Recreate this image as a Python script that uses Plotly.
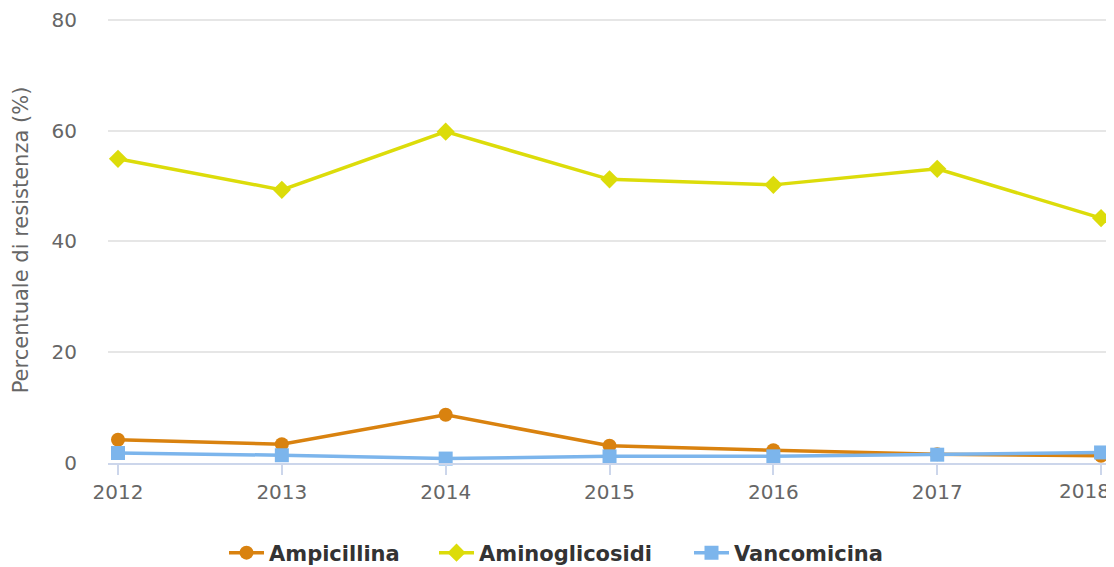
import plotly.graph_objects as go

years = [2012, 2013, 2014, 2015, 2016, 2017, 2018]
ampicillina = [4.2, 3.4, 8.7, 3.1, 2.3, 1.6, 1.3]
aminoglicosidi = [54.9, 49.3, 59.8, 51.2, 50.2, 53.1, 44.2]
vancomicina = [1.8, 1.4, 0.8, 1.2, 1.2, 1.5, 1.9]

ORANGE = "#d9820f"
YELLOW = "#dcdc0a"
BLUE = "#7cb5ec"
FONT = "DejaVu Sans"

# page body has an 8px margin: work in target coords minus 8
OFF = 8
W, H = 1114 - OFF, 567 - OFF
PL = 108 - OFF
PW = W - PL
Y0 = 463 - OFF            # pixel of value 0
PX_PER = 443 / 80         # pixels per unit
YMAX = 80.5
PT = Y0 - YMAX * PX_PER
PB = H - Y0

LEG_MID = 553 - OFF       # legend box middle (fig px)

fig = go.Figure()
fig.add_trace(go.Scatter(x=years, y=ampicillina, name="Ampicillina", mode="lines+markers",
                         line=dict(color=ORANGE, width=3.5),
                         marker=dict(symbol="circle", size=14, color=ORANGE),
                         cliponaxis=False, legend="legend"))
fig.add_trace(go.Scatter(x=years, y=aminoglicosidi, name="Aminoglicosidi", mode="lines+markers",
                         line=dict(color=YELLOW, width=3.5),
                         marker=dict(symbol="diamond", size=14, color=YELLOW),
                         cliponaxis=False, legend="legend2"))
fig.add_trace(go.Scatter(x=years, y=vancomicina, name="Vancomicina", mode="lines+markers",
                         line=dict(color=BLUE, width=3.5),
                         marker=dict(symbol="square", size=14, color=BLUE),
                         cliponaxis=False, legend="legend3"))

leg_font = dict(size=21, color="#333333", family=FONT, weight="bold")
def leg(xpx):
    return dict(orientation="h", xref="container", yref="container",
                x=(xpx - OFF) / W, y=1 - LEG_MID / H,
                xanchor="left", yanchor="middle", font=leg_font, bgcolor="rgba(0,0,0,0)",
                itemwidth=35, visible=True)

ticktext = [str(y) for y in years[:-1]] + [""]

fig.update_layout(
    width=W, height=H, showlegend=True,
    margin=dict(l=PL, r=0, t=PT, b=PB, pad=0),
    plot_bgcolor="white", paper_bgcolor="white",
    font=dict(family=FONT, color="#666666", size=20),
    xaxis=dict(range=[2011.939, 2018.079], tickmode="array", tickvals=years,
               ticktext=ticktext, showgrid=False, zeroline=False, automargin=False,
               showline=True, linecolor="#ccd6eb", linewidth=1.5,
               ticks="outside", ticklen=10, tickcolor="#ccd6eb", tickwidth=1.5,
               ticklabelstandoff=0,
               tickfont=dict(size=20, color="#666666", family=FONT)),
    yaxis=dict(range=[0, YMAX], tickvals=[0, 20, 40, 60, 80], showgrid=True, gridcolor="#e6e6e6",
               gridwidth=1.5, zeroline=False, showline=False, ticks="", ticklabelstandoff=30,
               automargin=False, ticklabeloverflow="allow",
               tickfont=dict(size=20, color="#666666", family=FONT),
               title=dict(text="Percentuale di resistenza (%)",
                          font=dict(size=21, color="#666666", family=FONT),
                          standoff=17)),
    legend=leg(224),
    legend2=leg(434),
    legend3=leg(689),
    annotations=[dict(x=years[-1], y=0, xref="x", yref="paper", text=str(years[-1]),
                      showarrow=False, yanchor="top", xanchor="center", xshift=-17, yshift=-14,
                      font=dict(size=20, color="#666666", family=FONT))],
)
fig.write_html("out.html")
